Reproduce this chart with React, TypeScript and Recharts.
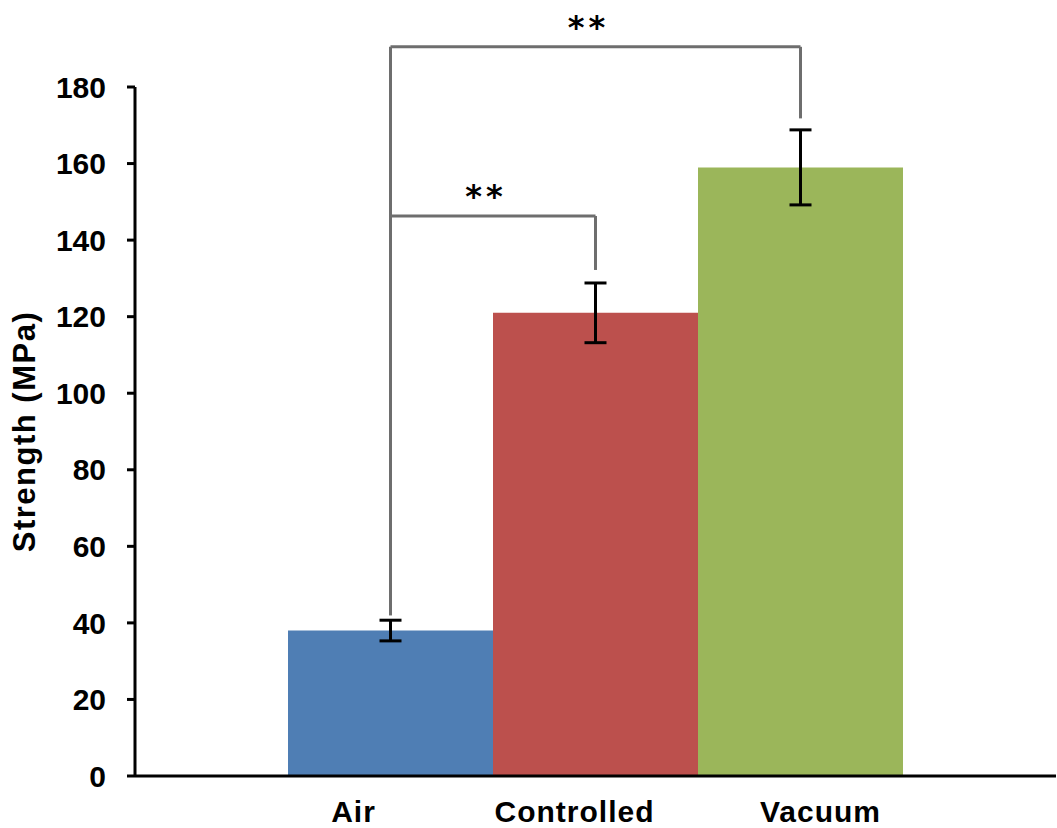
import { BarChart, Bar, Cell, XAxis, YAxis, ErrorBar, ReferenceLine } from 'recharts';

const categories = ['Air', 'Controlled', 'Vacuum'];
const strength = [38, 121, 159];
const strengthErr = [2.7, 7.8, 9.8];
const yTicks = [0, 20, 40, 60, 80, 100, 120, 140, 160, 180];

// significance brackets between atmospheres (MPa levels of each leg and the bar)
const bracketFrom = ['Air', 'Air'];
const bracketTo = ['Controlled', 'Vacuum'];
const bracketFromLow = [42, 42];
const bracketToLow = [132.2, 171.8];
const bracketTop = [146.3, 190.5];
const bracketMarks = ['**', '**'];

const COLORS = ['#4F7EB4', '#BC504D', '#9BB65A'];
const FONT = '"Liberation Sans", Arial, sans-serif';
const BRACKET = '#6e6e6e';

// category labels sit a little off the bar centres
const LABEL_SHIFT: Record<string, number> = { Air: -37, Controlled: -21, Vacuum: 20 };

const data = categories.map((name, i) => ({ name, value: strength[i], err: strengthErr[i] }));

const XTick = ({ x, y, payload }: any) => (
  <text
    x={x + (LABEL_SHIFT[payload.value] ?? 0)}
    y={y + 22}
    textAnchor="middle"
    fontFamily={FONT}
    fontWeight={700}
    fontSize={30}
    letterSpacing={1}
    fill="#000"
  >
    {payload.value}
  </text>
);

const YLabel = ({ viewBox }: any) => {
  const cx = viewBox.x + 24;
  const cy = viewBox.y + viewBox.height / 2;
  return (
    <text
      x={cx}
      y={cy}
      transform={`rotate(-90, ${cx}, ${cy})`}
      textAnchor="middle"
      dominantBaseline="central"
      fontFamily={FONT}
      fontWeight={700}
      fontSize={31}
      letterSpacing={1.5}
      fill="#000"
    >
      Strength (MPa)
    </text>
  );
};

const starLabel = (mark: string) => ({ viewBox }: any) => (
  <text
    x={viewBox.x + viewBox.width / 2 - 7}
    y={viewBox.y - 9}
    textAnchor="middle"
    fontFamily='"DejaVu Sans", sans-serif'
    fontWeight={700}
    fontSize={32}
    letterSpacing={4}
    fill="#000"
  >
    {mark}
  </text>
);

const App = () => {
  return (
    <div style={{ position: 'absolute', left: 0, top: 0, background: '#fff' }}>
      <BarChart
        width={1057}
        height={828}
        data={data}
        margin={{ top: 87, right: 1, bottom: 0, left: 0 }}
        barCategoryGap={0}
      >
        <YAxis
          width={135}
          domain={[0, 180]}
          ticks={yTicks}
          interval={0}
          tickSize={8}
          tickMargin={21}
          axisLine={{ stroke: '#000', strokeWidth: 3 }}
          tickLine={{ stroke: '#000', strokeWidth: 3 }}
          tick={{ fill: '#000', fontSize: 30, fontWeight: 700, fontFamily: FONT }}
          label={{ content: YLabel }}
        />
        <Bar dataKey="value" isAnimationActive={false}>
          {data.map((_, index) => (
            <Cell key={`cell-${index}`} fill={COLORS[index % COLORS.length]} />
          ))}
          <ErrorBar dataKey="err" width={11} stroke="#000" strokeWidth={3} isAnimationActive={false} />
        </Bar>
        <XAxis
          dataKey="name"
          height={52}
          padding={{ left: 153, right: 153 }}
          tickLine={false}
          tickSize={0}
          tickMargin={24}
          axisLine={{ stroke: '#000', strokeWidth: 3 }}
          tick={<XTick />}
          interval={0}
        />
        {bracketFrom.map((from, i) => [
          <ReferenceLine
            key={`bl-${i}`}
            segment={[{ x: from, y: bracketFromLow[i] }, { x: from, y: bracketTop[i] }]}
            stroke={BRACKET}
            strokeWidth={3}
            ifOverflow="visible"
          />,
          <ReferenceLine
            key={`bt-${i}`}
            segment={[{ x: from, y: bracketTop[i] }, { x: bracketTo[i], y: bracketTop[i] }]}
            stroke={BRACKET}
            strokeWidth={3}
            ifOverflow="visible"
            label={starLabel(bracketMarks[i])}
          />,
          <ReferenceLine
            key={`br-${i}`}
            segment={[{ x: bracketTo[i], y: bracketToLow[i] }, { x: bracketTo[i], y: bracketTop[i] }]}
            stroke={BRACKET}
            strokeWidth={3}
            ifOverflow="visible"
          />,
        ])}
      </BarChart>
    </div>
  );
};

export default App;
